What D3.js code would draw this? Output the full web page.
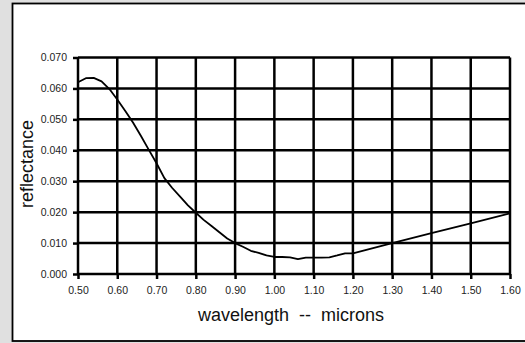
<!DOCTYPE html>
<html>
<head>
<meta charset="utf-8">
<script src="https://cdn.jsdelivr.net/npm/d3@7"></script>
<style>
  body { margin: 0; background: #e0e0e0; }
  svg { display: block; font-family: "Liberation Sans", Arial, sans-serif; }
</style>
</head>
<body>
<svg id="viz" width="525" height="343"></svg>
<script>
// wavelength (microns) and reflectance
var wavelengths = [0.50, 0.52, 0.54, 0.56, 0.58, 0.60, 0.62, 0.64, 0.66, 0.68,
                   0.70, 0.72, 0.74, 0.76, 0.78, 0.80, 0.82, 0.84, 0.86, 0.88,
                   0.90, 0.92, 0.94, 0.96, 0.98, 1.00, 1.02, 1.04, 1.06, 1.08,
                   1.10, 1.12, 1.14, 1.16, 1.18, 1.20, 1.30, 1.40, 1.50, 1.60];
var reflectance = [0.0620, 0.0633, 0.0634, 0.0623, 0.0598, 0.0564, 0.0528, 0.0490, 0.0447, 0.0402,
                   0.0358, 0.0310, 0.0278, 0.0250, 0.0222, 0.0198, 0.0175, 0.0155, 0.0135, 0.0115,
                   0.0100, 0.0088, 0.0075, 0.0068, 0.0060, 0.0055, 0.0055, 0.0054, 0.0048, 0.0053,
                   0.0053, 0.0053, 0.0054, 0.0060, 0.0067, 0.0067, 0.0100, 0.0132, 0.0164, 0.0196];
var xTicks = [0.5, 0.6, 0.7, 0.8, 0.9, 1.0, 1.1, 1.2, 1.3, 1.4, 1.5, 1.6];
var yTicks = [0, 0.01, 0.02, 0.03, 0.04, 0.05, 0.06, 0.07];

var svg = d3.select("#viz");

// white panel with black border (runs off the right edge)
svg.append("rect")
    .attr("x", 12.5).attr("y", 3.5)
    .attr("width", 530).attr("height", 337.5)
    .attr("fill", "#fff")
    .attr("stroke", "#000")
    .attr("stroke-width", 1.8);

var x = d3.scaleLinear().domain([0.5, 1.6]).range([78, 510]);
var y = d3.scaleLinear().domain([0, 0.07]).range([274, 57.5]);

// grid
svg.append("g").selectAll("line")
    .data(xTicks)
    .enter().append("line")
    .attr("x1", d => x(d)).attr("x2", d => x(d))
    .attr("y1", y(0.07)).attr("y2", y(0))
    .attr("stroke", "#000").attr("stroke-width", 2.5);

svg.append("g").selectAll("line")
    .data(yTicks)
    .enter().append("line")
    .attr("x1", x(0.5)).attr("x2", x(1.6))
    .attr("y1", d => y(d)).attr("y2", d => y(d))
    .attr("stroke", "#000").attr("stroke-width", 2.5);

// axes
var xAxis = svg.append("g")
    .attr("transform", "translate(0," + y(0) + ")")
    .call(d3.axisBottom(x).tickValues(xTicks).tickFormat(d3.format(".2f")).tickSize(5).tickPadding(8));
var yAxis = svg.append("g")
    .attr("transform", "translate(" + x(0.5) + ",0)")
    .call(d3.axisLeft(y).tickValues(yTicks).tickFormat(d3.format(".3f")).tickSize(5).tickPadding(6));

[xAxis, yAxis].forEach(function(a) {
    a.select(".domain").remove();
    a.selectAll(".tick line").attr("stroke", "#000").attr("stroke-width", 2.5);
    a.selectAll(".tick text")
        .attr("fill", "#222")
        .style("font-size", "10.5px")
        .style("font-family", "'Liberation Sans', Arial, sans-serif");
});

// curve
var pts = wavelengths.map((w, i) => [w, reflectance[i]]);
svg.append("path")
    .datum(pts)
    .attr("fill", "none")
    .attr("stroke", "#000")
    .attr("stroke-width", 1.8)
    .attr("stroke-linejoin", "round")
    .attr("d", d3.line().x(d => x(d[0])).y(d => y(d[1])));

// axis titles
svg.append("text")
    .attr("x", 291).attr("y", 321)
    .attr("text-anchor", "middle")
    .attr("fill", "#111")
    .style("font-size", "18px")
    .style("white-space", "pre")
    .attr("xml:space", "preserve")
    .text("wavelength  --  microns");

svg.append("text")
    .attr("transform", "translate(33,164) rotate(-90)")
    .attr("text-anchor", "middle")
    .attr("fill", "#111")
    .style("font-size", "18px")
    .text("reflectance");
</script>
</body>
</html>
